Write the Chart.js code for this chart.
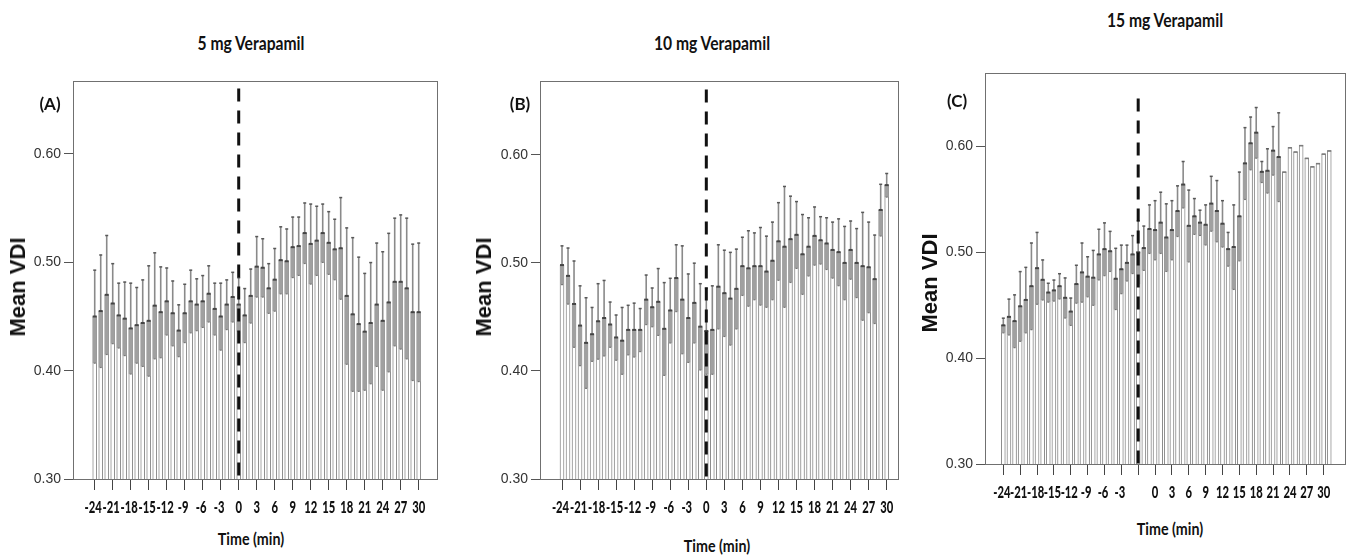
<!DOCTYPE html>
<html><head><meta charset="utf-8">
<script src="https://cdn.jsdelivr.net/npm/chart.js@4.4.1/dist/chart.umd.min.js"></script>
<style>
body{margin:0;background:#fff;}
#wrap{position:relative;width:1358px;height:557px;overflow:hidden;background:#fff;}
canvas{position:absolute;}
.t{position:absolute;white-space:nowrap;color:#111;font-weight:bold;}
.title{font-family:Lato,"Open Sans",sans-serif;font-size:18px;transform:translate(-50%,-50%) scaleX(0.87);}
.ylab{font-family:"Liberation Sans",Arial,sans-serif;font-size:22px;transform:translate(-50%,-50%) rotate(-90deg);}
.xlab{font-family:Lato,sans-serif;font-size:17px;transform:translate(-50%,-50%) scaleX(0.84);}
.pl{font-family:Lato,sans-serif;font-size:17px;transform:translate(-50%,-50%);}
</style></head>
<body><div id="wrap">
<canvas id="cA"></canvas><canvas id="cB"></canvas><canvas id="cC"></canvas>
<div class="t title" style="left:251px;top:43px">5 mg Verapamil</div>
<div class="t title" style="left:712px;top:43px">10 mg Verapamil</div>
<div class="t title" style="left:1165px;top:20px">15 mg Verapamil</div>
<div class="t pl" style="left:50px;top:103px">(A)</div>
<div class="t pl" style="left:520px;top:103px">(B)</div>
<div class="t pl" style="left:957px;top:100px">(C)</div>
<div class="t ylab" style="left:18px;top:287px">Mean VDI</div>
<div class="t ylab" style="left:484px;top:287px">Mean VDI</div>
<div class="t ylab" style="left:930px;top:283px">Mean VDI</div>
<div class="t xlab" style="left:251px;top:538px">Time (min)</div>
<div class="t xlab" style="left:717px;top:545px">Time (min)</div>
<div class="t xlab" style="left:1170px;top:528px">Time (min)</div>
</div>
<script>
// ---------- DATA ----------
const aCategories = [-24,-23,-22,-21,-20,-19,-18,-17,-16,-15,-14,-13,-12,-11,-10,-9,-8,-7,-6,-5,-4,-3,-2,-1,0,1,2,3,4,5,6,7,8,9,10,11,12,13,14,15,16,17,18,19,20,21,22,23,24,25,26,27,28,29,30];
const aMeans = [0.450,0.455,0.470,0.462,0.451,0.448,0.439,0.442,0.444,0.446,0.460,0.454,0.464,0.453,0.437,0.453,0.464,0.461,0.464,0.471,0.457,0.450,0.461,0.468,0.461,0.451,0.469,0.496,0.495,0.476,0.484,0.502,0.501,0.514,0.515,0.527,0.517,0.520,0.527,0.518,0.512,0.513,0.469,0.452,0.443,0.436,0.444,0.461,0.446,0.463,0.482,0.482,0.476,0.454,0.454];
const aErrors = [0.043,0.052,0.055,0.037,0.030,0.034,0.042,0.035,0.040,0.051,0.049,0.042,0.031,0.030,0.024,0.027,0.029,0.024,0.024,0.026,0.024,0.031,0.023,0.023,0.025,0.025,0.025,0.028,0.027,0.023,0.029,0.031,0.030,0.028,0.027,0.028,0.037,0.032,0.027,0.029,0.028,0.047,0.063,0.071,0.062,0.054,0.056,0.057,0.064,0.064,0.059,0.062,0.065,0.063,0.064];
const aTickLabels = ['-24','-21','-18','-15','-12','-9','-6','-3','0','3','6','9','12','15','18','21','24','27','30'];

const bCategories = [-24,-23,-22,-21,-20,-19,-18,-17,-16,-15,-14,-13,-12,-11,-10,-9,-8,-7,-6,-5,-4,-3,-2,-1,0,1,2,3,4,5,6,7,8,9,10,11,12,13,14,15,16,17,18,19,20,21,22,23,24,25,26,27,28,29,30];
const bMeans = [0.498,0.488,0.462,0.442,0.426,0.434,0.446,0.449,0.443,0.431,0.428,0.438,0.438,0.438,0.466,0.459,0.464,0.439,0.456,0.486,0.466,0.449,0.463,0.441,0.437,0.438,0.478,0.472,0.467,0.476,0.497,0.495,0.497,0.497,0.492,0.502,0.520,0.515,0.522,0.526,0.508,0.515,0.525,0.521,0.518,0.512,0.510,0.500,0.512,0.500,0.497,0.496,0.485,0.549,0.572];
const bErrors = [0.018,0.026,0.040,0.037,0.042,0.025,0.035,0.035,0.021,0.021,0.031,0.023,0.025,0.020,0.023,0.018,0.031,0.043,0.030,0.031,0.050,0.041,0.037,0.040,0.040,0.041,0.039,0.040,0.043,0.037,0.027,0.035,0.031,0.036,0.033,0.036,0.036,0.056,0.040,0.031,0.037,0.027,0.027,0.022,0.024,0.026,0.031,0.034,0.027,0.032,0.050,0.042,0.041,0.024,0.011];
const bTickLabels = ['-24','-21','-18','-15','-12','-9','-6','-3','0','3','6','9','12','15','18','21','24','27','30'];

const cCategories = [1,2,3,4,5,6,7,8,9,10,11,12,13,14,15,16,17,18,19,20,21,22,23,24,25,26,27,28,29,30,31,32,33,34,35,36,37,38,39,40,41,42,43,44,45,46,47,48,49,50,51,52,53,54,55,56,57,58,59];
const cMeans = [0.431,0.439,0.435,0.449,0.455,0.468,0.485,0.474,0.462,0.464,0.468,0.457,0.444,0.470,0.481,0.477,0.476,0.498,0.503,0.501,0.475,0.484,0.490,0.498,0.500,0.504,0.522,0.521,0.528,0.514,0.521,0.539,0.564,0.525,0.534,0.528,0.526,0.546,0.539,0.527,0.503,0.505,0.534,0.584,0.603,0.613,0.576,0.577,0.596,0.590,0.576,0.599,0.595,0.601,0.589,0.581,0.584,0.593,0.596];
const cErrors = [0.007,0.017,0.025,0.033,0.031,0.041,0.034,0.019,0.009,0.010,0.012,0.019,0.013,0.018,0.028,0.019,0.026,0.024,0.025,0.019,0.029,0.023,0.017,0.018,0.030,0.021,0.023,0.028,0.029,0.032,0.028,0.024,0.022,0.034,0.017,0.012,0.019,0.026,0.029,0.022,0.016,0.040,0.042,0.034,0.025,0.024,0.010,0.021,0.023,0.042,0,0,0,0,0,0,0,0,0];
const cTickLabels = ['-24','-21','-18','-15','-12','-9','-6','-3','','0','3','6','9','12','15','18','21','24','27','30'];

const yTickValues = [0.30,0.40,0.50,0.60];

// ---------- PLUGINS ----------
const errorBarPlugin = {
  id: 'errbars',
  afterDatasetsDraw(chart) {
    const ds = chart.data.datasets[0];
    const meta = chart.getDatasetMeta(0);
    const ys = chart.scales.y, ctx = chart.ctx, ca = chart.chartArea;
    ctx.save();
    ctx.beginPath(); ctx.rect(ca.left, ca.top, ca.right - ca.left, ca.bottom - ca.top); ctx.clip();
    meta.data.forEach((bar, i) => {
      const m = ds.data[i].y, e = ds.errors[i];
      const x = bar.x, w = bar.width;
      const yt = ys.getPixelForValue(m);
      if (e > 0) {
        const yl = ys.getPixelForValue(m - e), yh = ys.getPixelForValue(m + e);
        ctx.fillStyle = '#a0a0a0'; ctx.fillRect(x - w / 2, yt, w, yl - yt);
        ctx.fillStyle = '#8a8a8a'; ctx.fillRect(x - 0.8, yh, 1.6, yt - yh);
        ctx.fillStyle = '#585858'; ctx.fillRect(x - 1.5, yh - 0.5, 3, 1.5);
        ctx.fillStyle = '#787878'; ctx.fillRect(x - 1, yl - 0.5, 2, 1.2);
        ctx.fillStyle = '#444444'; ctx.fillRect(x - w / 2, yt - 1, w, 2);
      } else {
        ctx.fillStyle = '#7c7c7c'; ctx.fillRect(x - w / 2, yt - 0.5, w, 1.6);
      }
    });
    ctx.restore();
  }
};
const framePlugin = {
  id: 'frame',
  afterDraw(chart, args, opts) {
    const ctx = chart.ctx, ca = chart.chartArea;
    ctx.save();
    ctx.strokeStyle = '#707070'; ctx.lineWidth = 1;
    ctx.strokeRect(Math.round(ca.left) + 0.5, Math.round(ca.top) + 0.5, Math.round(ca.right - ca.left), Math.round(ca.bottom - ca.top));
    const xs = chart.scales.x;
    const xp = xs.getPixelForValue(opts.dashIndex);
    ctx.strokeStyle = '#111'; ctx.lineWidth = 3; ctx.setLineDash([13, 9]);
    ctx.beginPath(); ctx.moveTo(xp, ca.top + opts.dashTop); ctx.lineTo(xp, ca.bottom); ctx.stroke();
    ctx.restore();
  }
};
// x tick labels drawn at the library's tick positions, horizontally condensed like the original figure
const condensedTicksPlugin = {
  id: 'condTicks',
  afterDraw(chart, args, opts) {
    const xs = chart.scales.x, ctx = chart.ctx;
    ctx.save();
    ctx.fillStyle = '#111';
    ctx.font = '900 17px Lato, sans-serif';
    ctx.textAlign = 'center'; ctx.textBaseline = 'middle';
    xs.ticks.forEach((t, i) => {
      const lab = opts.labels[i];
      if (!lab) return;
      const px = xs.getPixelForValue(t.value);
      ctx.save();
      ctx.translate(px - (lab.startsWith('-') ? 1.5 : 0), xs.top + opts.offset);
      ctx.scale(0.66, 1);
      ctx.fillText(lab, 0, 0);
      ctx.restore();
    });
    ctx.restore();
  }
};

// ---------- PANELS ----------
function makePanel(p) {
  const cv = document.getElementById(p.id);
  const left = p.frame.left - 60, top = p.frame.top - 10;
  const w = p.frame.right - left + 10, h = p.frame.bottom - top + 45;
  cv.width = w; cv.height = h; cv.style.left = left + 'px'; cv.style.top = top + 'px';
  cv.style.width = w + 'px'; cv.style.height = h + 'px';
  const tickIdx = p.tickIdx;
  new Chart(cv, {
    type: 'bar',
    data: { datasets: [{
      data: p.means.map((m, i) => ({ x: i, y: m })),
      errors: p.errors,
      backgroundColor: '#ffffff', borderColor: '#8c8c8c', borderWidth: 1,
      barThickness: 4
    }]},
    options: {
      responsive: false, animation: false, devicePixelRatio: 1,
      layout: { padding: { top: 10, right: 10, left: 0, bottom: 0 } },
      plugins: { legend: { display: false }, tooltip: { enabled: false },
        frame: { dashIndex: p.dashIndex, dashTop: p.dashTop },
        condTicks: { labels: p.tickLabels, offset: 28.5 } },
      scales: {
        x: {
          type: 'linear', offset: false, min: p.xMin, max: p.xMax,
          afterFit: s => { s.height = 45; },
          afterBuildTicks: s => { s.ticks = tickIdx.map(v => ({ value: v })); },
          grid: { offset: false, drawOnChartArea: false, drawTicks: true, tickLength: 11, color: '#444' },
          border: { display: true, color: '#333' },
          ticks: { display: false, autoSkip: false, maxRotation: 0, minRotation: 0,
            callback: (v, i) => p.tickLabels[i] }
        },
        y: {
          type: 'linear', min: 0.30, max: p.yMax,
          afterFit: s => { s.width = 60; },
          afterBuildTicks: s => { s.ticks = yTickValues.map(v => ({ value: v })); },
          grid: { drawOnChartArea: false, drawTicks: true, tickLength: 9, color: '#555' },
          border: { display: true, color: '#707070' },
          ticks: { padding: 3, color: '#333', font: { family: '"Liberation Sans",Arial,sans-serif', size: 14 },
            callback: v => Number(v).toFixed(2) }
        }
      }
    },
    plugins: [errorBarPlugin, framePlugin, condensedTicksPlugin]
  });
}

makePanel({ id: 'cA', frame: { left: 73, right: 437, top: 80, bottom: 479 }, means: aMeans, errors: aErrors,
  tickLabels: aTickLabels, tickIdx: aTickLabels.map(l => aCategories.indexOf(Number(l))),
  xMin: -3.62, xMax: 57.05, yMax: 0.667, dashIndex: aCategories.indexOf(0), dashTop: 7 });
makePanel({ id: 'cB', frame: { left: 540, right: 898, top: 80, bottom: 479 }, means: bMeans, errors: bErrors,
  tickLabels: bTickLabels, tickIdx: bTickLabels.map(l => bCategories.indexOf(Number(l))),
  xMin: -3.66, xMax: 55.88, yMax: 0.668, dashIndex: bCategories.indexOf(0), dashTop: 8 });
makePanel({ id: 'cC', frame: { left: 985, right: 1345, top: 72, bottom: 464 }, means: cMeans, errors: cErrors,
  tickLabels: cTickLabels, tickIdx: cTickLabels.map((l, k) => k * 3),
  xMin: -3.26, xMax: 60.8, yMax: 0.669, dashIndex: 24, dashTop: 25 });
</script></body></html>
